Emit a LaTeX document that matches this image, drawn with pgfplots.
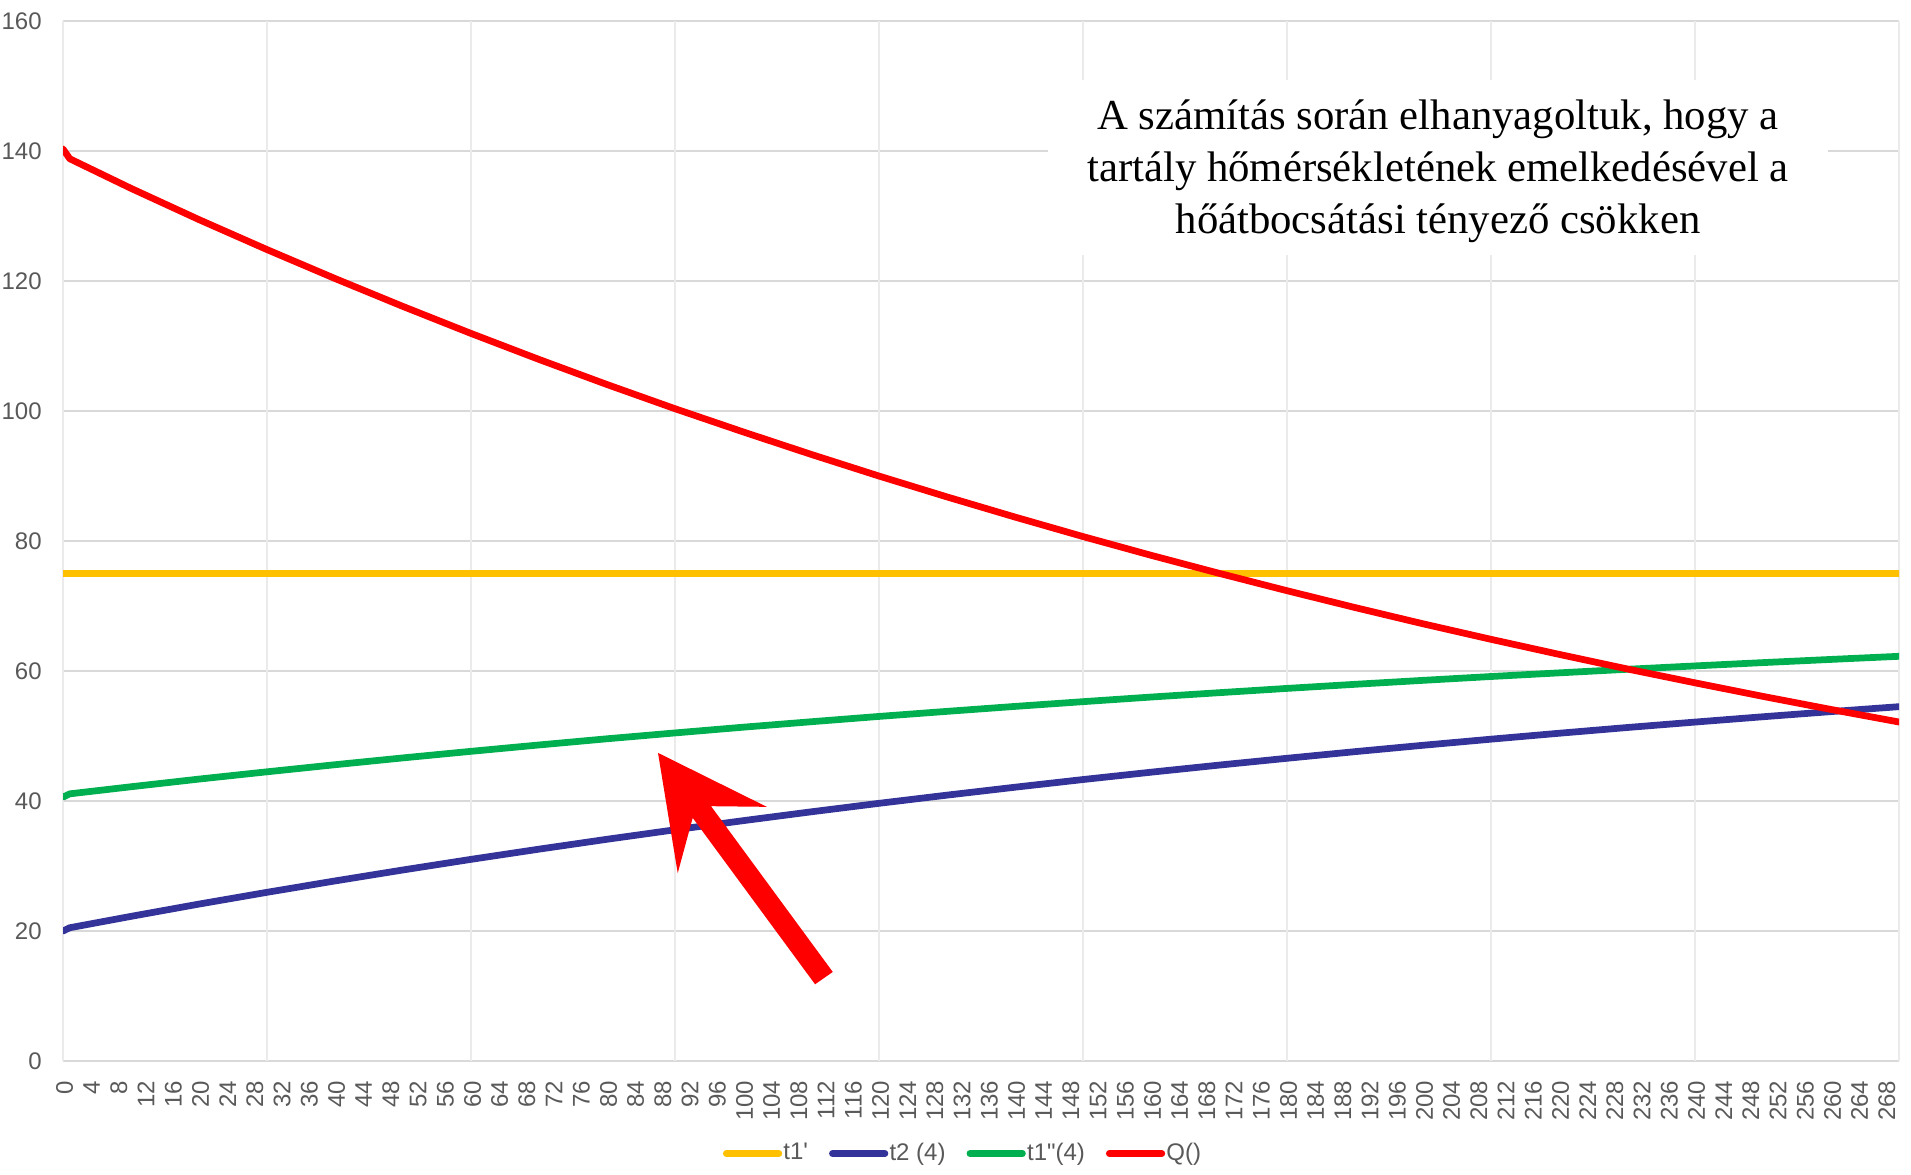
\documentclass[border=0pt]{standalone}
\usepackage{fontspec}
\setmainfont{Liberation Sans}[Ligatures=TeXOff]
\newfontfamily\timesfont{Liberation Serif}
\usepackage{pgfplots}
\pgfplotsset{compat=1.18}

\definecolor{cYel}{HTML}{FFC000}
\definecolor{cBlue}{HTML}{333399}
\definecolor{cGreen}{HTML}{00B050}
\definecolor{cRed}{HTML}{FF0000}
\definecolor{gridy}{HTML}{D9D9D9}
\definecolor{gridx}{HTML}{EBEBEB}
\definecolor{ticktxt}{HTML}{595959}

\begin{document}
\begin{tikzpicture}
\begin{axis}[
    scale only axis,
    width=734.4pt, height=416pt,
    xmin=0, xmax=270, ymin=0, ymax=160,
    axis line style={draw=none},
    xtick={0,4,...,268},
    ytick={0,20,...,160},
    major tick length=0pt,
    ymajorgrids,
    major grid style={color=gridy, line width=0.6pt},
    extra x ticks={0,30,...,270},
    extra x tick labels={},
    extra x tick style={grid=major, major grid style={color=gridx, line width=0.6pt}},
    /pgf/number format/assume math mode=true,
    tick label style={font=\fontsize{9.6}{11}\selectfont, color=ticktxt},
    xticklabel style={rotate=90, anchor=east, xshift=-4.4pt, yshift=-0.6pt},
    yticklabel style={xshift=-5pt},
    legend columns=4,
    legend style={at={(axis description cs:0.49,-0.089)}, anchor=center,
        draw=none, fill=none, font=\fontsize{9.6}{11}\selectfont, text=ticktxt,
        nodes={inner xsep=0.5pt},
        /tikz/every even column/.append style={column sep=7.9pt}},
    legend image code/.code={\draw[#1, line cap=round] (0pt,0pt) -- (21pt,0pt);},
    every axis plot/.append style={line width=2.7pt, line cap=round, line join=round},
]
\addplot[cYel] coordinates {(0,75) (270,75)};
\addplot[cBlue] coordinates {
(0,20.00) (1,20.50) (10,22.25) (20,24.14) (30,25.95) (40,27.70) (50,29.39)
(60,31.02) (70,32.59) (80,34.11) (90,35.57) (100,36.97) (110,38.33)
(120,39.64) (130,40.90) (140,42.12) (150,43.30) (160,44.43) (170,45.52)
(180,46.57) (190,47.59) (200,48.57) (210,49.51) (220,50.42) (230,51.30)
(240,52.14) (250,52.96) (260,53.75) (270,54.51)};
\addplot[cGreen] coordinates {
(0,40.60) (1,41.10) (10,42.19) (20,43.37) (30,44.49) (40,45.58) (50,46.63)
(60,47.64) (70,48.62) (80,49.57) (90,50.47) (100,51.35) (110,52.19)
(120,53.01) (130,53.79) (140,54.55) (150,55.28) (160,55.99) (170,56.66)
(180,57.32) (190,57.95) (200,58.56) (210,59.15) (220,59.71) (230,60.26)
(240,60.78) (250,61.29) (260,61.78) (270,62.26)};
\addplot[cRed] coordinates {
(0,140.30) (1,138.80) (10,134.25) (20,129.44) (30,124.83) (40,120.38) (50,116.08)
(60,111.93) (70,107.93) (80,104.07) (90,100.35) (100,96.79) (110,93.33)
(120,89.99) (130,86.78) (140,83.68) (150,80.68) (160,77.80) (170,75.03)
(180,72.35) (190,69.76) (200,67.26) (210,64.87) (220,62.56) (230,60.32)
(240,58.18) (250,56.09) (260,54.08) (270,52.15)};
\legend{t1', t2 (4), t1"(4), Q()}

% annotation box
\fill[white] (axis cs:144.9,124) rectangle (axis cs:259.6,150.9);
\node[align=center, font=\timesfont\fontsize{17.1}{20.9}\selectfont, text=black]
  at (axis cs:202.2,136.9)
  {A számítás során elhanyagoltuk, hogy a\\
   tartály hőmérsékletének emelkedésével a\\
   hőátbocsátási tényező csökken};

% block arrow
\fill[cRed] (axis cs:87.5,47.4) -- (axis cs:90.4,28.9) -- (axis cs:92.6,37.4)
  -- (axis cs:110.6,11.8) -- (axis cs:113.2,13.7) -- (axis cs:95.3,39.2)
  -- (axis cs:103.5,39.1) -- cycle;

\coordinate (bl) at (rel axis cs:0,0);
\coordinate (tr) at (rel axis cs:1,1);
\end{axis}
\pgfresetboundingbox
\useasboundingbox ([shift={(-25.2pt,-45.6pt)}]bl) rectangle ([shift={(4.8pt,8.4pt)}]tr);
\end{tikzpicture}
\end{document}
